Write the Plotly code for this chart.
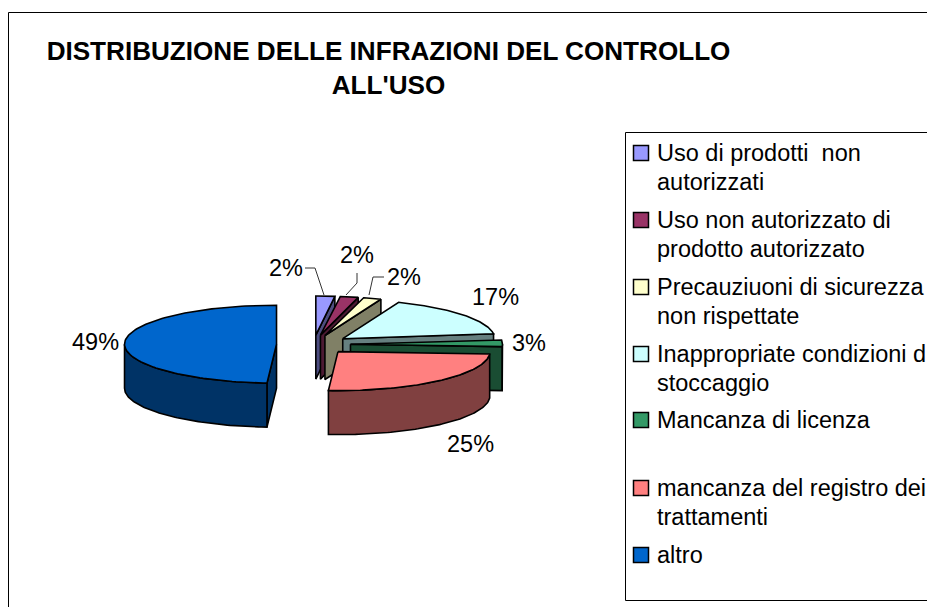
import numpy as np
import plotly.graph_objects as go

CATEGORIES = ["Uso di prodotti  non<br>autorizzati", "Uso non autorizzato di<br>prodotto autorizzato",
              "Precauziuoni di sicurezza<br>non rispettate", "Inappropriate condizioni di<br>stoccaggio",
              "Mancanza di licenza", "mancanza del registro dei<br>trattamenti", "altro"]
VALUES = [2, 2, 2, 17, 3, 25, 49]
TOP_COLORS = ["#9999FF", "#993366", "#FFFFCC", "#CCFFFF", "#339966", "#FF8080", "#0066CC"]
SIDE_COLORS = ["#4D4D80", "#4D1A33", "#808066", "#668080", "#1A4D33", "#804040", "#003366"]
TITLE = "DISTRIBUZIONE DELLE INFRAZIONI DEL CONTROLLO<br>ALL'USO"

CX, CY, RX, RY, DEPTH, PULL = 313.5, 344.5, 152, 39, 44, 37
FONT = "Liberation Sans, Arial, sans-serif"

def pt(c, a, r=1.0):
    t = np.radians(a)
    return c[0] + RX * r * np.sin(t), c[1] - RY * r * np.cos(t)

fig = go.Figure()

def poly(xs, ys, color):
    fig.add_trace(go.Scatter(x=list(xs), y=list(ys), mode="lines", fill="toself", fillcolor=color,
                             line=dict(color="black", width=1.6), hoverinfo="skip", showlegend=False))

total = sum(VALUES)
cum = 0
for v, top, side in zip(VALUES, TOP_COLORS, SIDE_COLORS):
    a0, a1 = cum / total * 360, (cum + v) / total * 360
    cum += v
    mid = np.radians((a0 + a1) / 2)
    c = (CX + PULL * np.sin(mid), CY - PULL * np.cos(mid) * RY / RX)
    for a, visible in ((a0, 180 < a0 < 360), (a1, 0 < a1 < 180)):
        if visible:
            px, py = pt(c, a)
            poly([c[0], px, px, c[0], c[0]], [c[1], py, py + DEPTH, c[1] + DEPTH, c[1]], side)
    w0, w1 = max(a0, 90), min(a1, 270)
    if w1 > w0:
        ang = np.linspace(w0, w1, 80)
        xa, ya = pt(c, ang)
        poly(np.r_[xa, xa[::-1], xa[0]], np.r_[ya, ya[::-1] + DEPTH, ya[0]], side)
    ang = np.linspace(a0, a1, 120)
    xa, ya = pt(c, ang)
    poly(np.r_[c[0], xa, c[0]], np.r_[c[1], ya, c[1]], top)

shapes = [
    dict(type="rect", x0=8.5, y0=12.5, x1=960, y1=640, line=dict(color="black", width=1)),
    dict(type="rect", x0=625.5, y0=132.5, x1=960, y1=600.5, line=dict(color="black", width=1)),
]
for path in ("M305,268 L315,268 L324,295", "M357,273 L357,283 L346,295", "M384,277 L373,277 L369,295"):
    shapes.append(dict(type="path", path=path, line=dict(color="#333333", width=1)))

ann = []
def text(x, y, s, anchor="left"):
    ann.append(dict(x=x, y=y, text=s, showarrow=False, xanchor=anchor, yanchor="middle", align="left",
                    font=dict(family=FONT, size=23.5, color="black")))

LEGEND_Y = [153, 220, 287, 354, 420, 488, 555]
for name, col, y in zip(CATEGORIES, TOP_COLORS, LEGEND_Y):
    for i, line in enumerate(name.split("<br>")):
        text(654.5, y + i * 29, line)
    fig.add_trace(go.Scatter(x=[641], y=[y], mode="markers", hoverinfo="skip", showlegend=False,
                             marker=dict(symbol="square", size=15, color=col, line=dict(color="black", width=1.5))))

LABEL_POS = [(286, 268), (357, 255), (404, 277), (495, 297), (529, 343), (470, 444), (95, 342)]
for v, (x, y) in zip(VALUES, LABEL_POS):
    text(x, y, f"{v}%", "center")

fig.update_layout(
    width=927, height=607, autosize=False, margin=dict(l=0, r=0, t=0, b=0),
    paper_bgcolor="white", plot_bgcolor="white", showlegend=False,
    title=dict(text=TITLE, x=388.5 / 927, xanchor="center", xref="paper", y=1 - 60 / 607, yanchor="top", yref="container",
               font=dict(family=FONT, size=26.1, color="black", weight="bold")),
    xaxis=dict(range=[0, 927], visible=False, fixedrange=True),
    yaxis=dict(range=[607, 0], visible=False, fixedrange=True),
    shapes=shapes, annotations=ann,
)
fig.write_html("out.html", config=dict(displayModeBar=False),
               post_script="document.body.style.margin='0';document.documentElement.style.overflow='hidden';")
